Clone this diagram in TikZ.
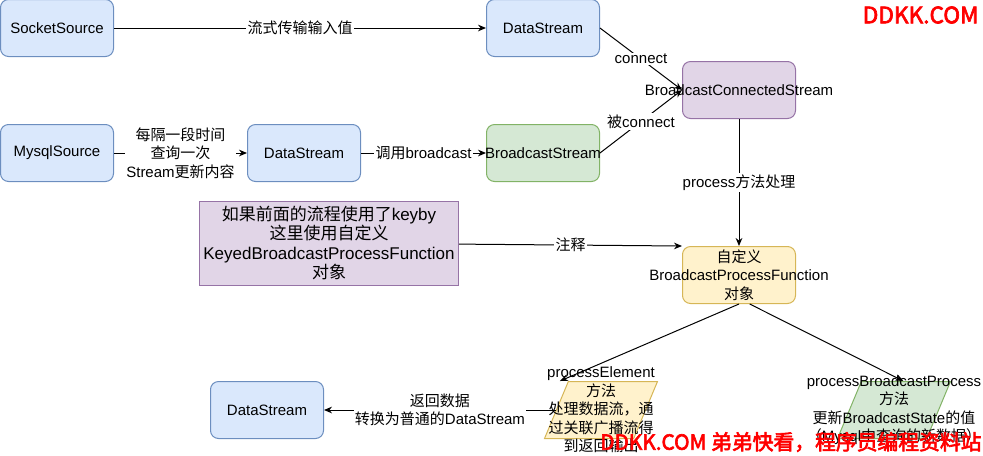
\documentclass[tikz,border=0pt]{standalone}
\usepackage{fontspec}
\setmainfont{Liberation Sans}
\newfontfamily\cjk{Noto Sans CJK SC}
\newfontfamily\wmfont[FakeBold=3]{Noto Sans CJK SC}
\newcommand{\zh}[1]{{\cjk #1}}
\usetikzlibrary{shapes.geometric,arrows.meta}

\definecolor{bfill}{HTML}{DAE8FC}
\definecolor{bline}{HTML}{6C8EBF}
\definecolor{gfill}{HTML}{D5E8D4}
\definecolor{gline}{HTML}{82B366}
\definecolor{pfill}{HTML}{E1D5E7}
\definecolor{pline}{HTML}{9673A6}
\definecolor{yfill}{HTML}{FFF2CC}
\definecolor{yline}{HTML}{D6B656}
\definecolor{wmred}{HTML}{FF0000}

\tikzset{
  box/.style={draw, rounded corners=6pt, minimum width=84.75pt, minimum height=42.75pt, inner sep=0pt, align=center},
  bluebox/.style={box, fill=bfill, draw=bline},
  greenbox/.style={box, fill=gfill, draw=gline},
  purplebox/.style={box, fill=pfill, draw=pline},
  yellowbox/.style={box, fill=yfill, draw=yline},
  notebox/.style={draw=pline, fill=pfill, minimum width=194.25pt, minimum height=63pt, inner sep=0pt, align=center, font=\fontsize{12.75}{14.5}\selectfont},
  slanted/.style={trapezium, trapezium left angle=70, trapezium right angle=110, trapezium stretches=true, minimum width=84.75pt, minimum height=42.75pt, inner sep=2pt},
  elabel/.style={fill=white, inner sep=1pt, align=center},
  link/.style={->, draw=black},
  watermark/.style={text=wmred, font=\wmfont\fontsize{15.6}{15.6}\selectfont, inner sep=0pt}
}

\begin{document}
\begin{tikzpicture}[x=0.75pt, y=-0.75pt, line width=0.75pt, font=\fontsize{11.25}{13.9}\selectfont, >={Stealth[length=6pt,width=5pt]}]
  \useasboundingbox (0,0) rectangle (983,455);

  % upper row
  \node[bluebox] (socket) at (57,28) {SocketSource};
  \node[bluebox] (ds1) at (543,28) {DataStream};
  \node[bluebox] (mysql) at (57,153) {MysqlSource};
  \node[bluebox] (ds2) at (304,153) {DataStream};
  \node[greenbox, label=center:BroadcastStream] (bcast) at (543,153) {};
  \node[purplebox, label=center:BroadcastConnectedStream] (conn) at (739,90) {};

  % function and note
  \node[notebox] (note) at (329,243) {\zh{如果前面的流程使用了}keyby\\\zh{这里使用自定义}\\KeyedBroadcastProcessFunction\\\zh{对象}};
  \node[yellowbox, label={[align=center]center:{\zh{自定义}\\BroadcastProcessFunction\\\zh{对象}}}] (func) at (739,275) {};

  % methods
  \node[slanted, draw=yline, fill=yfill, label={[align=center]center:{processElement\\\zh{方法}\\\zh{处理数据流，通}\\\zh{过关联广播流得}\\\zh{到返回输出}}}] (elem) at (601,410) {};
  \node[slanted, draw=gline, fill=gfill, label={[align=center]center:{processBroadcastProcess\\\zh{方法}\\\zh{更新}BroadcastState\zh{的值}\\\zh{（}Mysql\zh{中查询的新数据）}}}] (bproc) at (894,410) {};
  \node[bluebox] (ds3) at (267,410) {DataStream};

  % connectors
  \draw[link] (socket) -- node[elabel] {\zh{流式传输输入值}} (ds1);
  \draw[link] (mysql) -- node[elabel] {\zh{每隔一段时间}\\\zh{查询一次}\\Stream\zh{更新内容}} (ds2);
  \draw[link] (ds2) -- node[elabel] {\zh{调用}broadcast} (bcast);
  \draw[link] (ds1.east) -- node[elabel] {connect} (conn.west);
  \draw[link] (bcast.east) -- node[elabel] {\zh{被}connect} (conn.west);
  \draw[link] (conn) -- node[elabel] {process\zh{方法处理}} (func);
  \draw[link] (note) -- node[elabel] {\zh{注释}} (func.north west);
  \draw[link] (func.south) -- ([xshift=-6pt]elem.top left corner);
  \draw[link] ([xshift=8pt]func.south) -- ([xshift=7pt]bproc.north);
  \draw[link] (elem) -- node[elabel] {\zh{返回数据}\\\zh{转换为普通的}DataStream} (ds3);

  % watermarks
  \node[watermark, anchor=east, font=\wmfont\fontsize{17}{17}\selectfont] (wmtop) at (979,15) {DDKK.COM};
  \node[watermark, anchor=east] (wmbottom) at (982,442) {DDKK.COM 弟弟快看，程序员编程资料站};
\end{tikzpicture}
\end{document}
